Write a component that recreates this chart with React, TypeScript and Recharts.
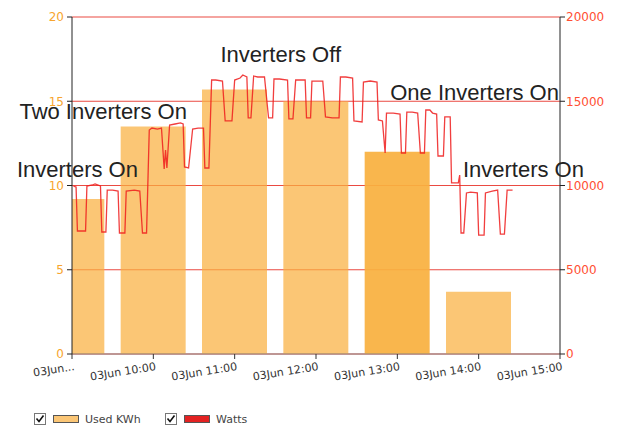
import React from "react";
import {
  BarChart, Bar, LineChart, Line, XAxis, YAxis, CartesianGrid, Cell, ReferenceDot,
} from "recharts";

// minutes after 03Jun 09:00
const hourMarks = [0, 60, 120, 180, 240, 300];
const usedKwh = [9.2, 13.5, 15.7, 15.0, 12.0, 3.7];

const xTicks = [0, 60, 120, 180, 240, 300, 360];
const xTickLabels = [
  "03Jun...", "03Jun 10:00", "03Jun 11:00", "03Jun 12:00",
  "03Jun 13:00", "03Jun 14:00", "03Jun 15:00",
];
const kwhTicks = [0, 5, 10, 15, 20];
const wattTicks = [0, 5000, 10000, 15000, 20000];

const wattMinutes = [
  1, 3, 4, 10, 11, 15, 17, 21, 22, 25, 26, 30, 34, 35, 39, 40, 46, 50, 52, 55,
  57, 59, 63, 66, 68, 69, 70, 72, 76, 80, 82, 83, 86, 89, 93, 97, 98, 101,
  103, 106, 111, 113, 118, 120, 124, 126, 129, 130, 132, 134, 137, 142, 145, 148,
  149, 153, 159, 160, 163, 165, 168, 172, 173, 176, 177, 181, 185, 187, 192, 197,
  198, 202, 207, 208, 214, 215, 220, 225, 226, 229, 231, 232, 237, 242, 243, 246,
  247, 251, 255, 257, 260, 261, 264, 266, 269, 270, 274, 275, 279, 280, 285, 286,
  287, 289, 291, 294, 299, 300, 304, 305, 310, 314, 316, 319, 321, 325,
];
const wattValues = [
  9970, 9910, 7300, 7300, 9970, 10030, 10090, 9970, 7240, 7240, 9730, 9730, 9670, 7180, 7180, 9670, 9730, 9670, 7180, 7180,
  13290, 13410, 13350, 13410, 10980, 12110, 11040, 13590, 13650, 13710, 13650, 11100, 11040, 13350, 13410, 13410, 11040, 11040,
  16260, 16260, 16200, 13830, 13830, 16260, 16380, 16560, 16440, 14010, 14010, 16500, 16440, 16440, 14010, 14010,
  16320, 16320, 16260, 13950, 13950, 16260, 16260, 16260, 14010, 14010, 16200, 16200, 16200, 14070, 14010, 14010,
  16440, 16440, 16380, 13830, 13770, 16140, 16200, 16140, 13890, 13830, 11930, 14300, 14300, 14240, 11930, 11930,
  14360, 14360, 14300, 11930, 11930, 14480, 14480, 14300, 14240, 11750, 11750, 14070, 14070, 10150, 10150, 10620,
  7180, 7180, 9560, 9610, 9560, 7060, 7060, 9560, 9670, 9730, 7120, 7120, 9730, 9730,
];

const notes = [
  { text: "Inverters On", t: 4, w: 10950 },
  { text: "Two Inverters On", t: 23, w: 14420 },
  { text: "Inverters Off", t: 154, w: 17800 },
  { text: "One Inverters On", t: 297, w: 15520 },
  { text: "Inverters On", t: 333, w: 10980 },
];

const barData = hourMarks.map((t, i) => ({ t, kwh: usedKwh[i] }));
const lineData = wattMinutes.map((t, i) => ({ t, watts: wattValues[i] }));

const W = 619;
const H = 428;
const tickFont = "DejaVu Sans, sans-serif";

const XTick = ({ x, y, payload }: any) => {
  const label = xTickLabels[xTicks.indexOf(payload.value)];
  const tx = x + 3;
  const ty = y + 9;
  return (
    <text
      x={tx}
      y={ty}
      textAnchor="end"
      transform={`rotate(-9 ${tx} ${ty})`}
      fontSize={11}
      fontFamily={tickFont}
      fill="#333"
    >
      {label}
    </text>
  );
};

const CheckBox = () => (
  <svg width={12} height={12} style={{ display: "block" }}>
    <rect x={0.5} y={0.5} width={11} height={11} fill="#fff" stroke="#777" />
    <polyline points="2.5,5.5 5,8.5 9.5,2.5" fill="none" stroke="#111" strokeWidth={1.6} />
  </svg>
);

const LegendItem = ({ left, color, label }: { left: number; color: string; label: string }) => (
  <div style={{ position: "absolute", left, top: 413, display: "flex", alignItems: "center", height: 12 }}>
    <CheckBox />
    <div style={{ width: 26, height: 8, background: color, border: "1px solid #555", marginLeft: 7, boxSizing: "border-box" }} />
    <span style={{ marginLeft: 6, fontSize: 11, fontFamily: tickFont, color: "#444" }}>{label}</span>
  </div>
);

export default function App() {
  return (
    <div style={{ position: "absolute", left: 0, top: 0, width: W, height: H, background: "#fff", fontFamily: "Liberation Sans, Arial, sans-serif" }}>
      <div style={{ position: "absolute", left: 0, top: 0 }}>
        <BarChart width={W} height={H - 74 + 74} data={barData} margin={{ top: 17, right: 59, left: 0, bottom: 0 }}>
          <CartesianGrid vertical={false} stroke="#E8362E" strokeOpacity={0.9} />
          <XAxis
            dataKey="t"
            type="number"
            domain={[0, 360]}
            ticks={xTicks}
            interval={0}
            allowDataOverflow
            height={74}
            tick={<XTick />}
            tickSize={5}
            axisLine={{ stroke: "#888" }}
            tickLine={{ stroke: "#333" }}
          />
          <YAxis
            domain={[0, 20]}
            ticks={kwhTicks}
            width={72}
            tickSize={5}
            tickMargin={3}
            axisLine={{ stroke: "#222" }}
            tickLine={{ stroke: "#222" }}
            tick={{ fill: "#F7A52E", fontSize: 12, fontFamily: tickFont }}
          />
          <Bar dataKey="kwh" barSize={65} fill="#F9B040" isAnimationActive={false}>
            {barData.map((_, i) => (
              <Cell key={i} fillOpacity={i === 4 ? 0.93 : 0.72} />
            ))}
          </Bar>
        </BarChart>
      </div>
      <div style={{ position: "absolute", left: 0, top: 0 }}>
        <LineChart width={W} height={H} data={lineData} margin={{ top: 17, right: 0, left: 72, bottom: 74 }}>
          <XAxis dataKey="t" type="number" domain={[0, 360]} hide />
          <YAxis
            orientation="right"
            domain={[0, 20000]}
            ticks={wattTicks}
            width={59}
            tickSize={5}
            tickMargin={1}
            axisLine={{ stroke: "#222" }}
            tickLine={{ stroke: "#222" }}
            tick={{ fill: "#FF4F33", fontSize: 12, fontFamily: tickFont, textAnchor: "start" }}
          />
          <Line
            dataKey="watts"
            type="linear"
            stroke="#EE1C1C"
            strokeWidth={1.3}
            strokeOpacity={0.85}
            dot={false}
            isAnimationActive={false}
          />
          {notes.map((n, i) => (
            <ReferenceDot
              key={i}
              x={n.t}
              y={n.w}
              r={0}
              ifOverflow="visible"
              label={{ value: n.text, position: "center", fontSize: 22, fill: "#222", fontFamily: "Liberation Sans, Arial, sans-serif" }}
            />
          ))}
        </LineChart>
      </div>
      <LegendItem left={34} color="#FBC676" label="Used KWh" />
      <LegendItem left={165} color="#E32222" label="Watts" />
    </div>
  );
}
